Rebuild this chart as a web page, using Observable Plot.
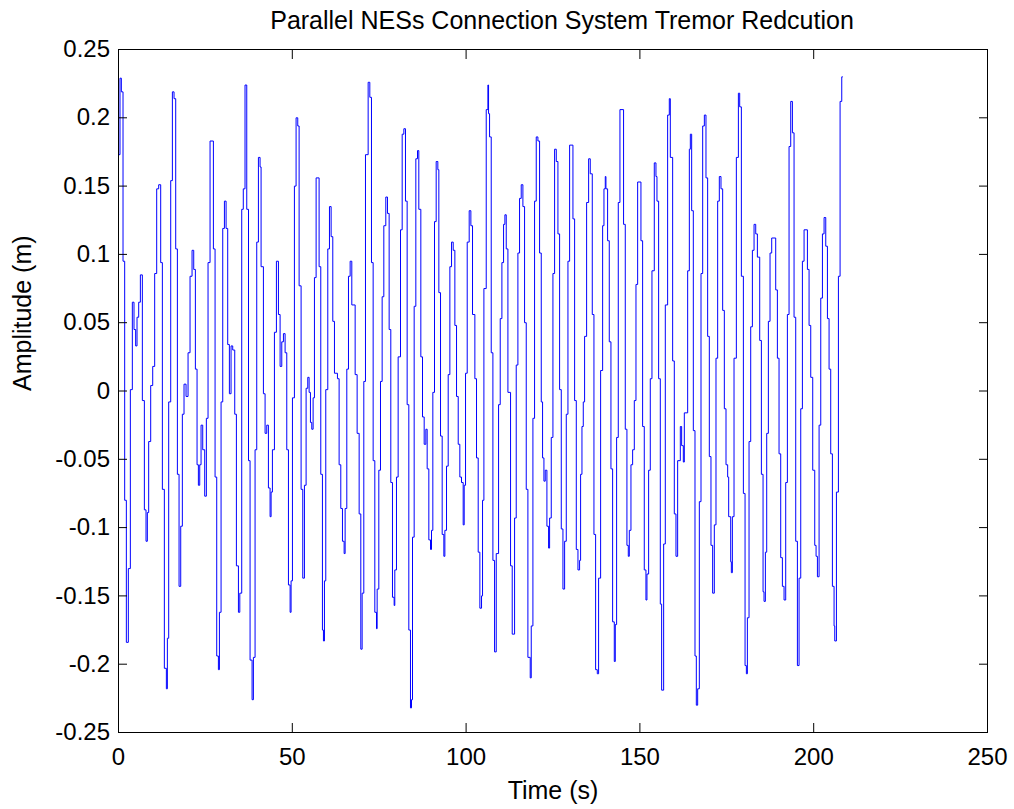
<!DOCTYPE html>
<html>
<head>
<meta charset="utf-8">
<script src="https://cdn.jsdelivr.net/npm/d3@7"></script>
<script src="https://cdn.jsdelivr.net/npm/@observablehq/plot@0.6"></script>
<style>
  html, body { margin: 0; padding: 0; background: #ffffff; }
  #chart { width: 1014px; height: 809px; }
</style>
</head>
<body>
<div id="chart"></div>
<script>
const titleText = "Parallel NESs Connection System Tremor Redcution";
const xLabel = "Time (s)";
const yLabel = "Amplitude (m)";
const xTicks = [0, 50, 100, 150, 200, 250];
const yTicks = [-0.25, -0.2, -0.15, -0.1, -0.05, 0, 0.05, 0.1, 0.15, 0.2, 0.25];

// step times (s) and held amplitude (m)
const times = [
  0.0, 0.43, 0.82, 1.30, 1.78, 2.26, 2.83, 3.41, 3.98, 4.46, 4.94, 5.33, 5.81, 6.29, 6.86, 7.44, 7.92, 8.30, 8.68, 9.26,
  9.84, 10.41, 10.99, 11.56, 12.14, 12.62, 13.19, 13.77, 14.06, 14.44, 15.02, 15.50, 15.98, 16.46, 16.94, 17.42, 17.90, 18.37, 18.85, 19.43,
  20.01, 20.58, 21.16, 21.64, 22.12, 22.60, 22.98, 23.37, 23.75, 24.23, 24.80, 25.28, 25.76, 26.34, 27.30, 27.78, 28.26, 28.74, 29.03, 29.51,
  29.99, 30.47, 30.95, 31.42, 31.90, 32.38, 32.86, 33.44, 33.92, 34.5, 34.9, 35.45, 35.9, 36.4, 36.9, 37.4, 37.85, 38.43, 38.81, 39.29,
  39.77, 40.25, 40.73, 41.02, 41.69, 42.17, 42.65, 43.13, 43.61, 43.9, 44.28, 44.86, 45.43, 46.01, 46.49, 46.97, 47.45, 47.93, 48.41, 48.89,
  49.37, 49.65, 50.04, 50.61, 51.09, 51.57, 51.96, 52.53, 53.01, 53.49, 53.97, 54.45, 54.84, 55.22, 55.6, 55.99, 56.37, 56.85, 57.71, 58.19,
  58.67, 58.96, 59.25, 59.63, 60.21, 60.69, 61.17, 61.65, 62.13, 62.99, 63.47, 63.95, 64.43, 64.91, 65.2, 65.68, 66.16, 66.64, 67.12, 68.08,
  68.65, 69.23, 69.71, 70.09, 70.57, 71.05, 71.82, 72.3, 72.78, 73.26, 73.74, 74.22, 74.41, 74.89, 75.37, 75.85, 76.33, 76.9, 77.38, 77.86,
  78.34, 78.82, 79.3, 79.49, 79.97, 80.45, 81.13, 81.61, 82.09, 82.56, 83.04, 83.52, 84.0, 84.29, 84.58, 85.06, 85.54, 86.02, 86.4, 86.98,
  87.46, 87.94, 88.42, 88.8, 89.28, 89.76, 90.05, 90.43, 90.91, 91.39, 91.87, 92.16, 92.64, 93.12, 93.6, 93.89, 94.37, 94.85, 95.33, 95.81,
  96.29, 96.77, 97.25, 97.73, 98.2, 98.68, 99.16, 99.45, 99.84, 100.32, 100.89, 101.37, 101.85, 102.52, 103.0, 103.48, 103.96, 104.44, 104.73, 105.12,
  105.79, 106.27, 106.46, 106.75, 107.23, 107.71, 108.19, 108.67, 109.34, 109.82, 110.3, 110.78, 111.16, 111.55, 112.03, 112.79, 113.27, 113.95, 114.42, 114.9,
  115.38, 115.86, 116.34, 116.82, 117.3, 117.78, 118.45, 118.74, 119.22, 119.7, 120.18, 120.66, 121.14, 121.62, 122.0, 122.39, 122.77, 123.25, 123.73, 124.02,
  124.5, 124.98, 125.46, 125.94, 126.42, 126.9, 127.38, 127.86, 128.34, 128.82, 129.3, 129.78, 130.74, 131.22, 131.7, 132.18, 132.65, 132.94, 133.33, 133.71,
  134.09, 134.67, 135.25, 135.72, 136.3, 136.78, 137.26, 137.74, 138.12, 138.7, 139.28, 139.66, 140.04, 140.23, 140.71, 141.19, 141.67, 142.15, 142.63, 142.92,
  143.3, 143.78, 144.26, 145.3, 145.79, 146.27, 146.66, 146.95, 147.43, 147.91, 148.39, 148.87, 149.35, 150.3, 150.78, 151.26, 151.74, 152.03, 152.51, 152.99,
  153.47, 154.14, 154.62, 154.91, 155.39, 155.87, 156.25, 156.83, 157.31, 157.98, 158.46, 158.75, 159.42, 159.9, 160.38, 160.86, 161.63, 162.01, 162.49, 162.78,
  163.74, 164.22, 164.51, 164.89, 165.37, 165.85, 166.23, 166.62, 167.1, 167.58, 168.06, 168.54, 169.01, 169.49, 169.97, 170.45, 170.93, 171.41, 171.89, 172.37,
  172.85, 173.33, 173.81, 174.29, 174.77, 175.25, 175.54, 176.12, 176.31, 176.6, 177.08, 177.75, 178.33, 178.71, 179.19, 179.77, 180.25, 180.63, 180.92, 181.4,
  181.88, 182.36, 182.84, 183.32, 183.8, 184.47, 184.95, 185.43, 185.71, 186.1, 186.48, 186.96, 187.44, 187.92, 189.07, 189.55, 190.03, 190.51, 190.99, 191.47,
  191.95, 192.43, 192.91, 193.39, 193.87, 194.35, 194.83, 195.31, 195.79, 196.27, 196.75, 197.23, 198.19, 198.67, 199.15, 199.72, 200.3, 200.68, 201.07, 201.55,
  202.03, 202.51, 202.99, 203.47, 203.95, 204.42, 204.9, 205.38, 205.86, 206.06, 206.54, 207.11, 207.59, 208.07, 208.3
];
const amps = [
  0.173, 0.229, 0.219, 0.095, -0.080, -0.184, -0.130, 0.001, 0.065, 0.045, 0.033, 0.054, 0.065, 0.085, -0.007, -0.087, -0.110, -0.089, -0.037, 0.004,
  0.018, 0.086, 0.148, 0.151, 0.094, -0.072, -0.203, -0.218, -0.181, -0.008, 0.154, 0.219, 0.214, 0.104, -0.061, -0.143, -0.099, -0.017, 0.005, -0.004,
  0.028, 0.084, 0.103, 0.089, 0.016, -0.054, -0.069, -0.054, -0.025, -0.043, -0.077, -0.020, 0.094, 0.183, 0.104, -0.063, -0.194, -0.204, -0.162, -0.008,
  0.119, 0.139, 0.119, 0.034, -0.002, 0.033, 0.030, -0.017, -0.128, -0.162, -0.148, 0.133, 0.148, 0.224, 0.133, -0.051, -0.197, -0.226, -0.195, -0.043,
  0.109, 0.171, 0.164, 0.091, -0.002, -0.031, -0.025, -0.071, -0.092, -0.074, -0.043, 0.043, 0.095, 0.056, 0.018, 0.036, 0.042, 0.028, -0.043, -0.142,
  -0.162, -0.139, -0.005, 0.150, 0.200, 0.194, 0.077, -0.072, -0.137, -0.069, 0.002, 0.010, -0.001, -0.023, -0.028, -0.005, 0.083, 0.156, 0.091, -0.061,
  -0.175, -0.183, -0.139, 0.001, 0.104, 0.135, 0.113, 0.051, 0.013, 0.009, -0.054, -0.086, -0.110, -0.119, -0.086, 0.016, 0.084, 0.095, 0.063, 0.012,
  -0.031, -0.090, -0.189, -0.148, 0.007, 0.173, 0.226, 0.215, 0.094, -0.051, -0.162, -0.174, -0.145, -0.058, 0.007, 0.069, 0.121, 0.142, 0.130, 0.045,
  -0.067, -0.151, -0.157, -0.131, -0.063, 0.025, 0.118, 0.188, 0.192, 0.139, -0.010, -0.175, -0.232, -0.226, -0.107, 0.062, 0.170, 0.176, 0.133, 0.025,
  -0.019, -0.039, -0.028, -0.057, -0.109, -0.116, -0.102, -0.001, 0.124, 0.168, 0.162, 0.072, -0.033, -0.105, -0.121, -0.102, -0.055, 0.012, 0.091, 0.109,
  0.103, 0.048, -0.004, -0.039, -0.063, -0.067, -0.098, -0.069, 0.013, 0.109, 0.132, 0.121, 0.056, 0.009, -0.049, -0.118, -0.159, -0.150, -0.080, 0.075,
  0.206, 0.224, 0.203, 0.186, 0.028, -0.124, -0.191, -0.119, -0.010, 0.053, 0.094, 0.122, 0.129, 0.104, -0.001, -0.128, -0.178, -0.093, 0.019, 0.101,
  0.141, 0.151, 0.135, 0.050, -0.072, -0.195, -0.210, -0.172, -0.020, 0.139, 0.186, 0.183, 0.101, -0.008, -0.049, -0.066, -0.058, -0.099, -0.115, -0.093,
  -0.034, 0.086, 0.177, 0.168, 0.115, 0.001, -0.101, -0.145, -0.110, -0.017, 0.095, 0.180, 0.126, -0.007, -0.116, -0.131, -0.124, -0.061, -0.026, -0.008,
  0.040, 0.138, 0.170, 0.159, 0.056, -0.105, -0.204, -0.207, -0.137, 0.015, 0.121, 0.148, 0.157, 0.148, 0.110, 0.036, -0.057, -0.169, -0.198, -0.171,
  -0.034, 0.138, 0.206, 0.122, -0.028, -0.113, -0.121, -0.102, -0.054, -0.043, -0.007, 0.078, 0.153, 0.110, -0.026, -0.131, -0.153, -0.134, -0.058, 0.009,
  0.088, 0.167, 0.157, 0.139, 0.009, -0.156, -0.219, -0.112, 0.063, 0.202, 0.214, 0.171, 0.022, -0.090, -0.121, -0.051, -0.026, -0.040, -0.052, -0.016,
  0.088, 0.177, 0.188, 0.132, -0.029, -0.194, -0.230, -0.218, -0.081, 0.086, 0.194, 0.202, 0.156, 0.040, -0.048, -0.113, -0.148, -0.098, 0.024, 0.139,
  0.157, 0.148, 0.059, -0.013, -0.054, -0.063, -0.092, -0.125, -0.133, -0.092, 0.024, 0.171, 0.218, 0.208, 0.084, -0.075, -0.201, -0.207, -0.166, -0.037,
  0.047, 0.103, 0.122, 0.115, 0.098, 0.037, -0.061, -0.147, -0.154, -0.118, -0.031, 0.051, 0.101, 0.112, 0.074, 0.024, -0.046, -0.122, -0.143, -0.153,
  -0.067, 0.056, 0.179, 0.212, 0.189, 0.054, -0.110, -0.201, -0.137, -0.013, 0.095, 0.118, 0.089, 0.048, 0.010, -0.058, -0.113, -0.121, -0.136, -0.025,
  0.068, 0.115, 0.127, 0.106, 0.053, 0.016, -0.046, -0.143, -0.172, -0.183, -0.074, 0.084, 0.212, 0.230, 0.230
];

const series = times.map((t, i) => ({t, a: amps[i]}));
const fmt = d => String(+d.toFixed(2));

const chart = Plot.plot({
  width: 1014,
  height: 809,
  marginLeft: 118,
  marginRight: 27,
  marginTop: 49,
  marginBottom: 77,
  style: {fontFamily: "'Liberation Sans', Arial, Helvetica, sans-serif", fontSize: "24px", background: "#ffffff", color: "#000000"},
  x: {domain: [0, 250]},
  y: {domain: [-0.25, 0.25]},
  marks: [
    Plot.line(series, {x: "t", y: "a", curve: "step-after", stroke: "#0000ff", strokeWidth: 1}),
    Plot.frame({stroke: "#000000"}),
    Plot.axisX(xTicks, {anchor: "bottom", tickSize: -9, tickPadding: 24, tickFormat: fmt, label: null, fontSize: 24}),
    Plot.axisX(xTicks, {anchor: "top", tickSize: -9, tickFormat: () => "", label: null}),
    Plot.axisY(yTicks, {anchor: "left", tickSize: -9, tickPadding: 17.5, tickFormat: fmt, label: null, fontSize: 24}),
    Plot.axisY(yTicks, {anchor: "right", tickSize: -9, tickFormat: () => "", label: null}),
    Plot.text([xLabel], {text: d => d, frameAnchor: "bottom", dy: 66, fontSize: 25}),
    Plot.text([yLabel], {text: d => d, frameAnchor: "left", dx: -96, rotate: -90, fontSize: 25}),
    Plot.text([titleText], {text: d => d, frameAnchor: "top", dx: 9, dy: -38, fontSize: 25})
  ]
});
document.getElementById("chart").appendChild(chart);
</script>
</body>
</html>
